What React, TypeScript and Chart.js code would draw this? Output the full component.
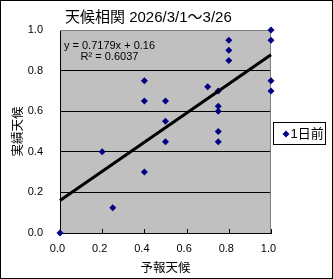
import React, { useEffect, useRef } from "react";
import { Chart, registerables } from "chart.js";
Chart.register(...registerables);

const titleText = "天候相関 2026/3/1～3/26";
const xTitle = "予報天候";
const yTitle = "実績天候";
const seriesName = "1日前";
const forecastX = [0, 0.2, 0.25, 0.4, 0.4, 0.4, 0.5, 0.5, 0.5, 0.7, 0.75, 0.75, 0.75, 0.75, 0.75, 0.8, 0.8, 0.8, 1, 1, 1, 1];
const actualY = [0, 0.4, 0.125, 0.75, 0.65, 0.3, 0.65, 0.55, 0.45, 0.72, 0.7, 0.625, 0.6, 0.5, 0.45, 0.95, 0.9, 0.85, 1, 0.95, 0.75, 0.7];
const trendX = [0, 1];
const trendY = [0.16, 0.8779];
const equationText = "y = 0.7179x + 0.16";
const r2Text = "R² = 0.6037";
const tickValues = [0, 0.2, 0.4, 0.6, 0.8, 1.0];

const NUM_FONT = '"Liberation Sans", "Noto Sans CJK JP", sans-serif';
const JP_FONT = '"Noto Sans CJK JP", sans-serif';

const decor = {
  id: "decor",
  beforeDraw(chart: any) {
    const { ctx, chartArea: a, width, height } = chart;
    ctx.save();
    ctx.fillStyle = "#ffffff";
    ctx.fillRect(0, 0, width, height);
    ctx.fillStyle = "#c0c0c0";
    ctx.fillRect(a.left, a.top, a.right - a.left, a.bottom - a.top);
    ctx.restore();
  },
  beforeDatasetsDraw(chart: any) {
    const { ctx, chartArea: a } = chart;
    ctx.save();
    ctx.strokeStyle = "#808080";
    ctx.lineWidth = 1;
    ctx.beginPath();
    ctx.moveTo(a.left, Math.round(a.top) + 0.5);
    ctx.lineTo(a.right, Math.round(a.top) + 0.5);
    ctx.moveTo(Math.round(a.right) - 0.5, a.top);
    ctx.lineTo(Math.round(a.right) - 0.5, a.bottom);
    ctx.stroke();
    const xs = chart.scales.x;
    ctx.strokeStyle = "#000000";
    ctx.beginPath();
    for (const v of tickValues) {
      const px = Math.round(xs.getPixelForValue(v)) + 0.5;
      ctx.moveTo(px, a.bottom - 4);
      ctx.lineTo(px, a.bottom);
    }
    ctx.stroke();
    ctx.restore();
  },
  afterDraw(chart: any) {
    const { ctx, width, height } = chart;
    ctx.save();
    ctx.fillStyle = "#000000";
    // title, fitted to the reference span (x 65..238)
    ctx.font = `14px ${NUM_FONT}`;
    const w14 = ctx.measureText(titleText).width || 173;
    const tSize = Math.min(15, (14 * 173) / w14);
    ctx.font = `${tSize.toFixed(2)}px ${NUM_FONT}`;
    ctx.textAlign = "left";
    ctx.textBaseline = "middle";
    ctx.fillText(titleText, 65, 18);
    // equation
    ctx.font = `11px ${NUM_FONT}`;
    ctx.textAlign = "center";
    ctx.fillText(equationText, 109.5, 46);
    ctx.fillText(r2Text, 109.5, 57);
    // legend
    ctx.fillStyle = "#ffffff";
    ctx.fillRect(273.5, 122.5, 52, 22);
    ctx.strokeStyle = "#000000";
    ctx.lineWidth = 1;
    ctx.strokeRect(273.5, 122.5, 52, 22);
    ctx.fillStyle = "#000080";
    ctx.beginPath();
    ctx.moveTo(286, 130.5);
    ctx.lineTo(289.5, 134);
    ctx.lineTo(286, 137.5);
    ctx.lineTo(282.5, 134);
    ctx.closePath();
    ctx.fill();
    ctx.fillStyle = "#000000";
    ctx.font = `13px ${NUM_FONT}`;
    ctx.textAlign = "left";
    ctx.fillText(seriesName, 290.5, 134.5);
    // outer border
    ctx.strokeRect(0.5, 0.5, width - 1, height - 1);
    ctx.restore();
  },
};

export default function App() {
  const ref = useRef<HTMLCanvasElement>(null);
  useEffect(() => {
    document.body.style.margin = "0";
    const fmt = (v: any) => Number(v).toFixed(1);
    const chart = new Chart(ref.current as HTMLCanvasElement, {
      type: "scatter",
      data: {
        datasets: [
          {
            label: seriesName,
            data: forecastX.map((x, i) => ({ x, y: actualY[i] })),
            pointStyle: "rectRot",
            pointRadius: 3.5,
            backgroundColor: "#000080",
            borderColor: "#000080",
            borderWidth: 0,
            clip: false as any,
            order: 2,
          },
          {
            label: "trend",
            data: trendX.map((x, i) => ({ x, y: trendY[i] })),
            showLine: true,
            borderColor: "#000000",
            borderWidth: 3,
            pointRadius: 0,
            clip: false as any,
            order: 1,
          } as any,
        ],
      },
      options: {
        responsive: false,
        animation: false,
        layout: { padding: { left: 0, top: 30, right: 62, bottom: 0 } },
        plugins: {
          legend: { display: false },
          title: { display: false },
          tooltip: { enabled: false },
        },
        scales: {
          x: {
            type: "linear",
            min: 0,
            max: 1,
            afterFit(s: any) {
              s.height = 46;
            },
            grid: { display: false, drawTicks: false },
            border: { display: true, color: "#000000", width: 1 },
            ticks: {
              stepSize: 0.2,
              padding: 9,
              labelOffset: -2.5,
              color: "#000000",
              font: { family: NUM_FONT, size: 11 },
              callback: fmt,
              maxRotation: 0,
            },
            title: {
              display: true,
              text: xTitle,
              color: "#000000",
              font: { family: JP_FONT, size: 12.5 },
              padding: { top: 0, bottom: 4.5 },
            },
          },
          y: {
            type: "linear",
            min: 0,
            max: 1,
            afterFit(s: any) {
              s.width = 60;
            },
            grid: {
              drawTicks: false,
              lineWidth: 1,
              color: (c: any) =>
                c.tick && c.tick.value > 0.01 && c.tick.value < 0.99 ? "#000000" : "rgba(0,0,0,0)",
            },
            border: { display: true, color: "#000000", width: 1 },
            ticks: {
              stepSize: 0.2,
              padding: 17,
              color: "#000000",
              font: { family: NUM_FONT, size: 11 },
              callback: fmt,
            },
            title: {
              display: true,
              text: yTitle,
              color: "#000000",
              font: { family: JP_FONT, size: 12.5 },
              padding: { top: 9.5, bottom: 0 },
            },
          },
        },
      } as any,
      plugins: [decor],
    });
    return () => chart.destroy();
  }, []);
  return (
    <div style={{ width: 333, height: 279 }}>
      <canvas ref={ref} width={333} height={279} style={{ display: "block" }} />
    </div>
  );
}
